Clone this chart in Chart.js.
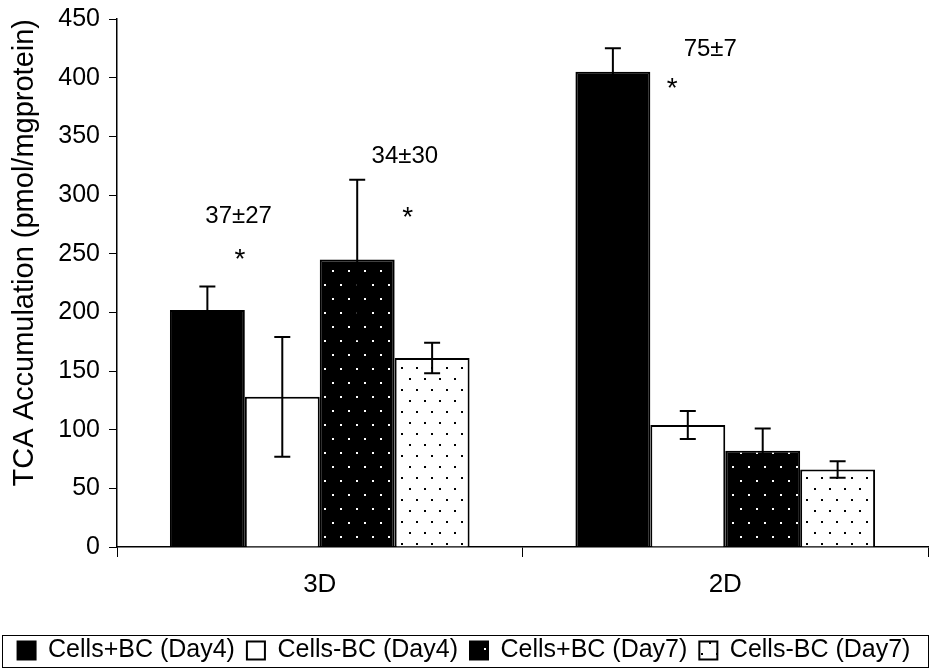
<!DOCTYPE html>
<html>
<head>
<meta charset="utf-8">
<script src="https://cdn.jsdelivr.net/npm/chart.js@4"></script>
<style>
  html, body { margin: 0; padding: 0; background: #fff; }
  #wrap { width: 931px; height: 668px; }
</style>
</head>
<body>
<div id="wrap"><canvas id="tcaChart" width="931" height="668"></canvas></div>
<script>
// Categories and series
const categories = ['3D', '2D'];
const seriesNames = ['Cells+BC (Day4)', 'Cells-BC (Day4)', 'Cells+BC (Day7)', 'Cells-BC (Day7)'];
const plusDay4 = [202, 405];
const minusDay4 = [128, 104];
const plusDay7 = [245, 82];
const minusDay7 = [161, 66];
// Error bars (+/-)
const plusDay4Err = [20, 20];
const minusDay4Err = [51, 12];
const plusDay7Err = [68, 19];
const minusDay7Err = [13, 7];
// Y axis ticks
const yTicks = [0, 50, 100, 150, 200, 250, 300, 350, 400, 450];
// Annotation texts over the bars (category position, value)
const noteTexts = ['37±27', '*', '34±30', '*', '75±7', '*'];
const notePos = [-0.2, -0.197, 0.21, 0.217, 0.963, 0.869];
const noteVals = [282, 244, 333, 280, 424, 390];

const FONT = 'Arial, "Liberation Sans", sans-serif';

// Dotted patterns for the Day7 bars
function makeDots(bg, dot, w, h, pts) {
    const c = document.createElement('canvas');
    c.width = w; c.height = h;
    const g = c.getContext('2d');
    g.fillStyle = bg;
    g.fillRect(0, 0, w, h);
    g.fillStyle = dot;
    pts.forEach(p => g.fillRect(p[0], p[1], 2, 2));
    return g.createPattern(c, 'repeat');
}
const ctx = document.getElementById('tcaChart').getContext('2d');
const darkDots = makeDots('#000', '#fff', 16, 28, [[4, 4], [12, 18]]);
const lightDots = makeDots('#fff', '#000', 15, 22, [[4, 4], [11, 15]]);

const errorSets = [plusDay4Err, minusDay4Err, plusDay7Err, minusDay7Err];

// error bars drawn on top of the bars
const errorBars = {
    id: 'errorBars',
    afterDatasetsDraw(chart) {
        const c = chart.ctx;
        const y = chart.scales.y;
        c.save();
        c.strokeStyle = '#000';
        c.lineWidth = 2;
        chart.data.datasets.forEach((ds, i) => {
            const meta = chart.getDatasetMeta(i);
            meta.data.forEach((bar, j) => {
                const v = ds.data[j];
                const e = errorSets[i][j];
                const top = y.getPixelForValue(v + e);
                const bot = y.getPixelForValue(v - e);
                c.beginPath();
                c.moveTo(bar.x, top); c.lineTo(bar.x, bot);
                c.moveTo(bar.x - 8, top); c.lineTo(bar.x + 8, top);
                c.moveTo(bar.x - 8, bot); c.lineTo(bar.x + 8, bot);
                c.stroke();
            });
        });
        c.restore();
    }
};

// significance labels
const notes = {
    id: 'notes',
    afterDraw(chart) {
        const c = chart.ctx;
        const x = chart.scales.x;
        const y = chart.scales.y;
        c.save();
        c.fillStyle = '#000';
        c.textAlign = 'center';
        c.textBaseline = 'middle';
        noteTexts.forEach((t, i) => {
            c.font = (t === '*' ? '28px ' : '24px ') + FONT;
            c.fillText(t, x.getPixelForValue(notePos[i]), y.getPixelForValue(noteVals[i]));
        });
        c.restore();
    }
};

// box round the legend row
const legendFrame = {
    id: 'legendFrame',
    afterDraw(chart) {
        const hb = chart.legend.legendHitBoxes[0];
        const mid = hb.top + hb.height / 2;
        const c = chart.ctx;
        c.save();
        c.strokeStyle = '#000';
        c.lineWidth = 1;
        c.strokeRect(2.5, Math.round(mid - 16) + 0.5, chart.width - 5, 32);
        c.restore();
    }
};

const tcaChart = new Chart(ctx, {
    type: 'bar',
    data: {
        labels: categories,
        datasets: [
            { label: seriesNames[0], data: plusDay4, backgroundColor: '#000', borderColor: '#000', borderWidth: 2 },
            { label: seriesNames[1], data: minusDay4, backgroundColor: '#fff', borderColor: '#000', borderWidth: 2 },
            { label: seriesNames[2], data: plusDay7, backgroundColor: darkDots, borderColor: '#000', borderWidth: 2 },
            { label: seriesNames[3], data: minusDay7, backgroundColor: lightDots, borderColor: '#000', borderWidth: 2 }
        ]
    },
    options: {
        responsive: false,
        animation: false,
        categoryPercentage: 0.739,
        barPercentage: 1,
        layout: { padding: { top: 0, right: 3, left: 0, bottom: -5 } },
        plugins: {
            legend: {
                position: 'bottom',
                labels: {
                    font: { size: 25, family: FONT },
                    color: '#000',
                    boxWidth: 18,
                    boxHeight: 18,
                    padding: 12
                }
            },
            tooltip: { enabled: false }
        },
        scales: {
            x: {
                grid: { drawOnChartArea: false, drawTicks: true, tickLength: 10, color: '#000', offset: true },
                border: { display: true, color: '#000', width: 1.5 },
                ticks: { color: '#000', font: { size: 26, family: FONT }, padding: 12 },
                afterFit(scale) { scale.height = 79; }
            },
            y: {
                min: 0,
                max: 450,
                afterBuildTicks(scale) { scale.ticks = yTicks.map(v => ({ value: v })); },
                grid: { drawOnChartArea: false, drawTicks: true, tickLength: 8, color: '#000' },
                border: { display: true, color: '#000', width: 1.5 },
                ticks: { color: '#000', font: { size: 25, family: FONT, lineHeight: 0.8 }, padding: 9 },
                title: {
                    display: true,
                    align: 'end',
                    text: 'TCA Accumulation (pmol/mgprotein)',
                    color: '#000',
                    font: { size: 29, family: FONT },
                    padding: { top: 8, bottom: 0 }
                },
                afterFit(scale) { scale.width = 117; }
            }
        }
    },
    plugins: [errorBars, notes, legendFrame]
});
</script>
</body>
</html>
